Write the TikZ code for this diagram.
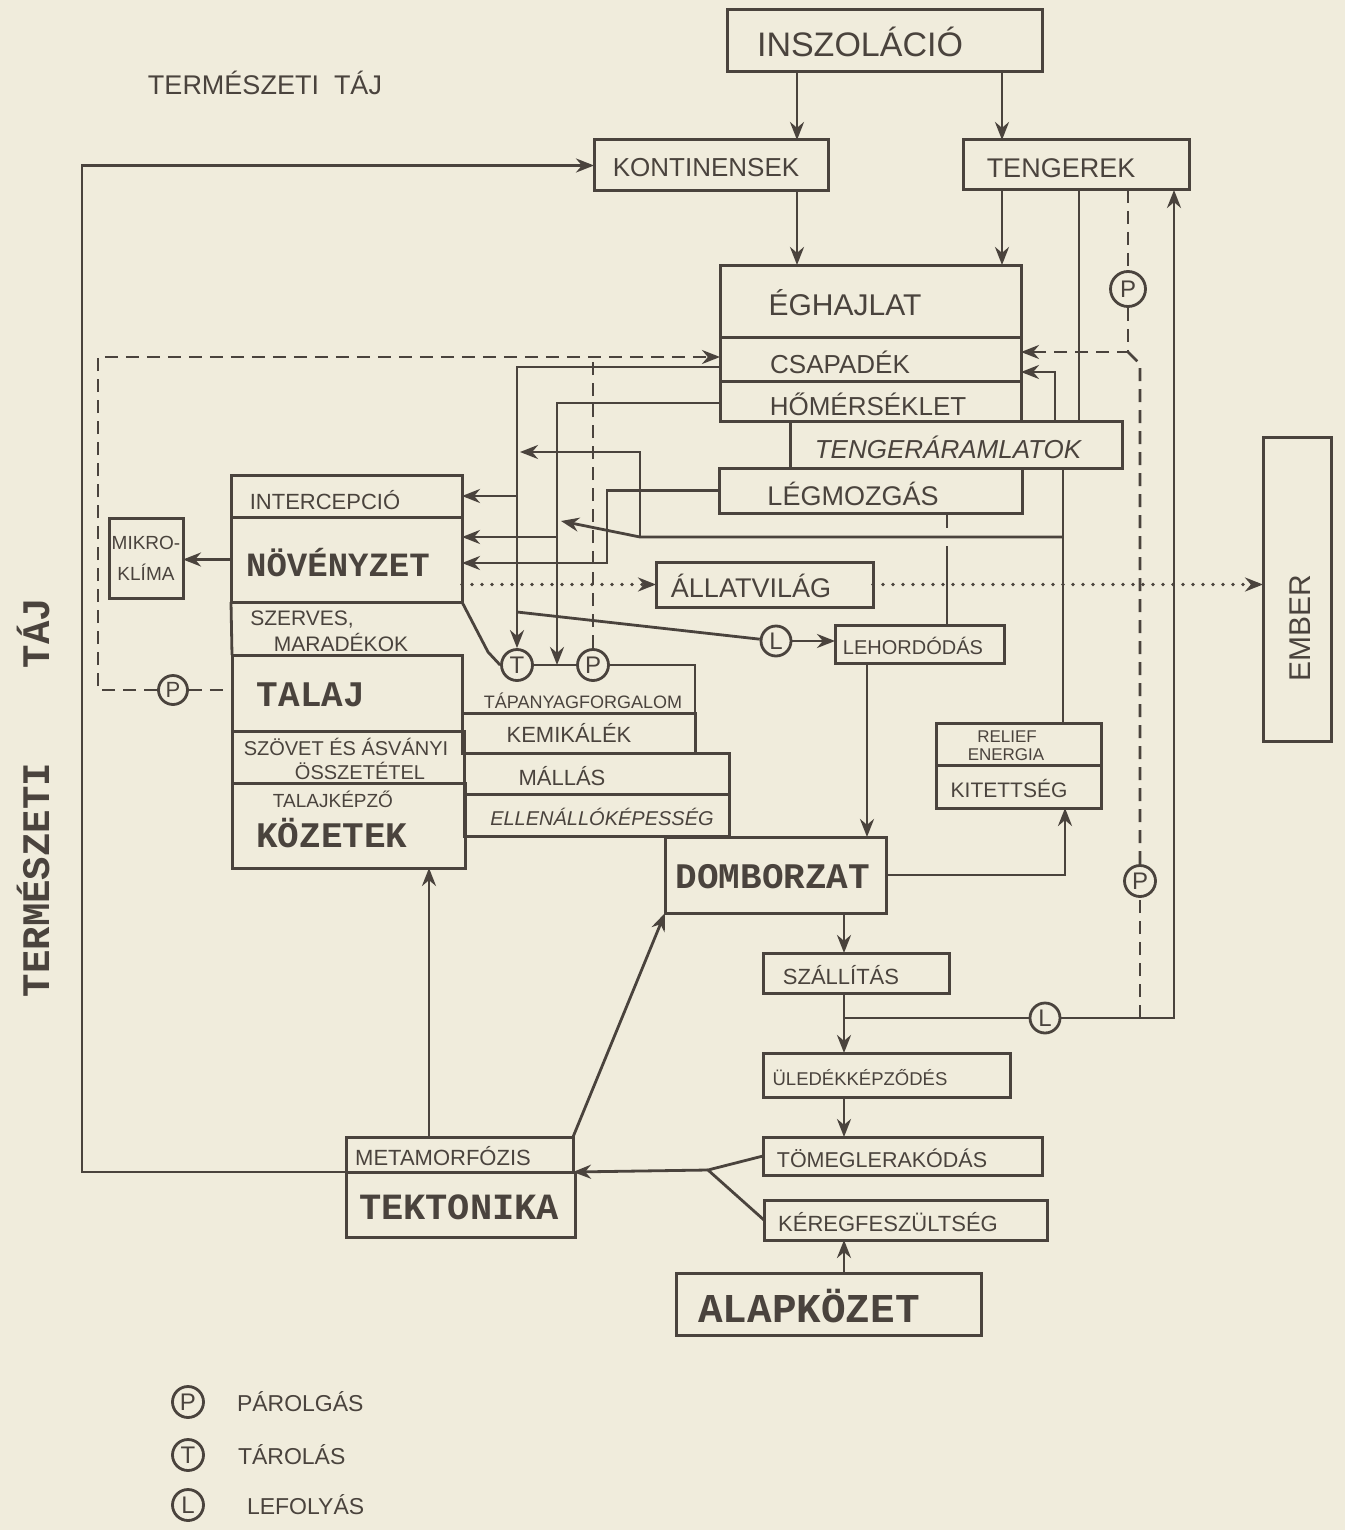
\documentclass[tikz,border=0pt]{standalone}
\usepackage{fontspec}
\setmainfont{Liberation Sans}
\newfontfamily\typew{Liberation Mono}
\usetikzlibrary{arrows.meta,fit}
\definecolor{bg}{HTML}{F0ECDC}
\definecolor{ink}{HTML}{4A433D}
\newcommand\mkbox[5]{\coordinate (#1-a) at (#2,#3);\coordinate (#1-b) at (#4,#5);\node[box,fit=(#1-a)(#1-b)] (#1) {};}
\begin{document}
\begin{tikzpicture}[x=1pt,y=-1pt,
  box/.style={draw=ink,line width=3pt,inner sep=0pt,outer sep=0pt},
  txt/.style={text=ink,inner sep=0pt,outer sep=0pt},
  fs/.style={txt,font=\fontsize{#1}{#1}\selectfont},
  big/.style={txt,font=\typew\bfseries\fontsize{#1}{#1}\selectfont},
  circ/.style={circle,draw=ink,line width=2.8pt,fill=bg,minimum size=31pt,inner sep=0pt,text=ink,font=\fontsize{24}{24}\selectfont},
  con/.style={draw=ink,line width=2.8pt},
  tip/.style={-{Stealth[length=18pt,width=14pt]}},
  arr/.style={con,tip},
  dsh/.style={con,dash pattern=on 13pt off 8pt},
  dot/.style={con,line width=3.6pt,line cap=round,dash pattern=on 0pt off 10pt}]
\fill[bg] (0,0) rectangle (1345,1530);
\useasboundingbox (0,0) rectangle (1345,1530);

% boxes
\mkbox{insz}{727}{10}{1042}{72}
\mkbox{kont}{594}{140}{828}{191}
\mkbox{teng}{963}{140}{1189}{190}
\mkbox{eghaj}{720}{265}{1021}{337}
\mkbox{csap}{720}{337}{1021}{381}
\mkbox{hom}{720}{381}{1021}{421}
\mkbox{tengar}{790}{421}{1122}{468}
\mkbox{legm}{719}{468}{1022}{513}
\mkbox{inter}{231}{475}{462}{517}
\mkbox{nov}{231}{517}{462}{602}
\mkbox{talaj}{232}{655}{462}{731}
\mkbox{szovet}{232}{731}{464}{783}
\mkbox{kozetek}{232}{783}{465}{868}
\mkbox{kemik}{462}{713}{695}{753}
\mkbox{mallas}{464}{753}{729}{794}
\mkbox{ellen}{464}{794}{729}{836}
\mkbox{mikro}{109}{518}{183}{598}
\mkbox{allat}{656}{562}{873}{607}
\mkbox{ember}{1263}{437}{1331}{741}
\mkbox{lehord}{835}{625}{1004}{663}
\mkbox{relief}{936}{723}{1101}{765}
\mkbox{kitett}{936}{765}{1101}{808}
\mkbox{domb}{665}{837}{886}{913}
\mkbox{szall}{763}{953}{949}{993}
\mkbox{uled}{763}{1053}{1010}{1097}
\mkbox{tomeg}{763}{1137}{1042}{1175}
\mkbox{kereg}{764}{1200}{1047}{1240}
\mkbox{alap}{676}{1273}{981}{1335}
\mkbox{meta}{346}{1137}{573}{1172}
\mkbox{tekt}{346}{1172}{575}{1237}

% circles
\node[circ,minimum size=35pt] (P1) at (1128,289) {P};
\node[circ] (P2) at (593,665) {P};
\node[circ] (T) at (517,665) {T};
\node[circ,minimum size=30pt] (L1) at (776,641) {L};
\node[circ,minimum size=30pt] (L2) at (1045,1018) {L};
\node[circ] (P3) at (1140,881) {P};
\node[circ,minimum size=29pt,font=\fontsize{22}{22}\selectfont] (P4) at (173,690) {P};

% texts
\node[fs=34] (t-insz) at (860,42) {INSZOLÁCIÓ};
\node[fs=26] (t-kont) at (706,168) {KONTINENSEK};
\node[fs=27] (t-teng) at (1061,168) {TENGEREK};
\node[fs=30] (t-eghaj) at (845,303) {ÉGHAJLAT};
\node[fs=26] (t-csap) at (840,362) {CSAPADÉK};
\node[fs=26] (t-hom) at (868,404) {HŐMÉRSÉKLET};
\node[fs=26,font=\itshape\fontsize{26}{26}\selectfont] (t-tengar) at (948,447) {TENGERÁRAMLATOK};
\node[fs=27] (t-legm) at (853,494) {LÉGMOZGÁS};
\node[fs=22] (t-inter) at (325,500) {INTERCEPCIÓ};
\node[big=34] (t-nov) at (338,563) {NÖVÉNYZET};
\node[fs=21] (t-sz1) at (302,620) {SZERVES,};
\node[fs=21] (t-sz2) at (341,642) {MARADÉKOK};
\node[big=36] (t-talaj) at (311,695) {TALAJ};
\node[fs=20] (t-szov1) at (346,747) {SZÖVET ÉS ÁSVÁNYI};
\node[fs=20] (t-szov2) at (360,771) {ÖSSZETÉTEL};
\node[fs=19] (t-tk) at (333,799) {TALAJKÉPZŐ};
\node[big=36] (t-koz) at (332,833) {KÖZETEK};
\node[fs=18] (t-tap) at (583,701) {TÁPANYAGFORGALOM};
\node[fs=22] (t-kem) at (569,733) {KEMIKÁLÉK};
\node[fs=22] (t-mal) at (562,776) {MÁLLÁS};
\node[fs=20,font=\itshape\fontsize{20}{20}\selectfont] (t-ell) at (602,817) {ELLENÁLLÓKÉPESSÉG};
\node[fs=19,align=center,font=\fontsize{19}{31}\selectfont] (t-mik) at (146,558) {MIKRO-\\KLÍMA};
\node[fs=27] (t-allat) at (751,586) {ÁLLATVILÁG};
\node[fs=30,rotate=90] (t-ember) at (1300,628) {EMBER};
\node[fs=20] (t-lehord) at (913,646) {LEHORDÓDÁS};
\node[fs=17] (t-rel) at (1007,737) {RELIEF};
\node[fs=17] (t-ene) at (1006,755) {ENERGIA};
\node[fs=21] (t-kit) at (1009,788) {KITETTSÉG};
\node[big=36] (t-domb) at (773,877) {DOMBORZAT};
\node[fs=22] (t-szall) at (841,975) {SZÁLLÍTÁS};
\node[fs=18.5] (t-uled) at (860,1078) {ÜLEDÉKKÉPZŐDÉS};
\node[fs=21.5] (t-tomeg) at (882,1158) {TÖMEGLERAKÓDÁS};
\node[fs=22] (t-kereg) at (888,1222) {KÉREGFESZÜLTSÉG};
\node[big=41] (t-alap) at (809,1306) {ALAPKÖZET};
\node[fs=22] (t-meta) at (443,1156) {METAMORFÓZIS};
\node[big=37] (t-tekt) at (459,1207) {TEKTONIKA};
\node[fs=27] (t-title) at (265,83) {TERMÉSZETI\ \ TÁJ};
\node[big=39,rotate=90] (t-v1) at (33,880) {TERMÉSZETI};
\node[big=39,rotate=90] (t-v2) at (33,633) {TÁJ};

% legend
\node[circ] (lgP) at (188,1402) {P};
\node[fs=23,anchor=west] (lgPt) at (237,1402) {PÁROLGÁS};
\node[circ] (lgT) at (188,1455) {T};
\node[fs=23,anchor=west] (lgTt) at (238,1455) {TÁROLÁS};
\node[circ] (lgL) at (188,1505) {L};
\node[fs=23,anchor=west] (lgLt) at (247,1505) {LEFOLYÁS};

% routing coordinates
\coordinate (xa) at (797,0);
\coordinate (xb2) at (1002,0);
\coordinate (xb) at (1079,0);
\coordinate (xd) at (1055,0);
\coordinate (xe) at (1174,0);
\coordinate (xf) at (844,0);
\coordinate (xh) at (429,0);
\coordinate (xi) at (867,0);
\coordinate (xj) at (1065,0);
\coordinate (xk) at (1063,0);
\coordinate (xl) at (947,0);
\coordinate (yr) at (0,372);
\coordinate (yc) at (0,367);
\coordinate (yh) at (0,403);
\coordinate (yn1) at (0,537);
\coordinate (ydash) at (0,357);
\coordinate (j1) at (1128,352);
\coordinate (j3) at (1140,364);
\coordinate (j2) at (1140,1018);
\coordinate (j4) at (844,1018);
\coordinate (k1) at (1063,537);
\coordinate (k2) at (640,537);
\coordinate (k3) at (640,452);
\coordinate (k4) at (561,521);
\coordinate (k5) at (520,452);
\coordinate (l1) at (947,528);
\coordinate (l2) at (947,546);
\coordinate (fk) at (708,1170);
\coordinate (cl) at (82,1172);
\coordinate (tp) at (557,665);
\coordinate (c24) at (607,563);
\coordinate (dl) at (98,690);
\coordinate (dg) at (488,652);
\coordinate (c29) at (517,612);

% top connectors
\draw[arr] (insz.south -| xa) -- (kont.north -| xa);
\draw[arr] (insz.south -| xb2) -- (teng.north -| xb2);
\draw[arr] (kont.south -| xa) -- (eghaj.north -| xa);
\draw[arr] (teng.south -| xb2) -- (eghaj.north -| xb2);
\draw[con] (teng.south -| xb) -- (tengar.north -| xb);
\draw[dsh] (teng.south -| P1) -- (P1.north);
\draw[dsh,tip] (P1.south) -- (j1) -- (csap.east |- j1);
\draw[dsh] (j2) -- (P3.south);
\draw[dsh] (P3.north) -- (j3) -- (j1);
\draw[arr] (tengar.north -| xd) |- (csap.east |- yr);
\draw[con] (tengar.south -| xk) -- (relief.north -| xk);
\draw[arr] (k1) -- (k2) -- (k4);
\draw[arr] (k2) -- (k3) -- (k5);
\draw[con] (legm.south -| xl) -- (l1);
\draw[con] (l2) -- (lehord.north -| xl);

% lower right
\draw[arr] (lehord.south -| xi) -- (domb.north -| xi);
\draw[arr] (domb.east) -| (kitett.south -| xj);
\draw[arr] (domb.south -| xf) -- (szall.north -| xf);
\draw[con] (szall.south -| xf) -- (j4);
\draw[arr] (j4) -- (uled.north -| xf);
\draw[con] (j4) -- (L2);
\draw[arr] (L2) -| (teng.south -| xe);
\draw[arr] (uled.south -| xf) -- (tomeg.north -| xf);
\draw[arr] (alap.north -| xf) -- (kereg.south -| xf);
\draw[con] (tomeg.west) -- (fk) -- (kereg.west);
\draw[arr] (fk) -- (meta.south east);
\draw[arr] (meta.south west) -- (cl) |- (kont.west);
\draw[arr] (meta.north -| xh) -- (kozetek.south -| xh);
\draw[arr] (meta.north east) -- (domb.south west);

% left cluster
\draw[arr] (csap.west |- yc) -| (T.north);
\draw[arr] (inter.east -| T.north) -- (inter.east);
\draw[arr] (hom.west |- yh) -| (tp);
\draw[arr] (tp |- yn1) -- (nov.east |- yn1);
\draw[arr] (legm.west) -| (c24) -- (nov.east |- c24);
\draw[dsh] (P2.north) -- (P2.north |- ydash);
\draw[dsh] (P4.east) -- (talaj.west |- P4.east);
\draw[dsh,tip] (P4.west) -- (dl) |- (csap.west |- ydash);
\draw[arr] (nov.west) -- (mikro.east |- nov.west);
\draw[dot,tip] (nov.east |- allat.west) -- (allat.west);
\draw[dot,tip] (allat.east) -- (ember.west |- allat.east);
\draw[con] (nov.south east) -- (dg) -- (T.west);
\draw[con] (T.east) -- (P2.west);
\draw[con] (P2.east) -| (kemik.north east);
\draw[con] (c29) -- (L1);
\draw[arr] (L1.east) -- (lehord.west |- L1.east);
\draw[con] (nov.south west) -- (talaj.north west);
\end{tikzpicture}
\end{document}
